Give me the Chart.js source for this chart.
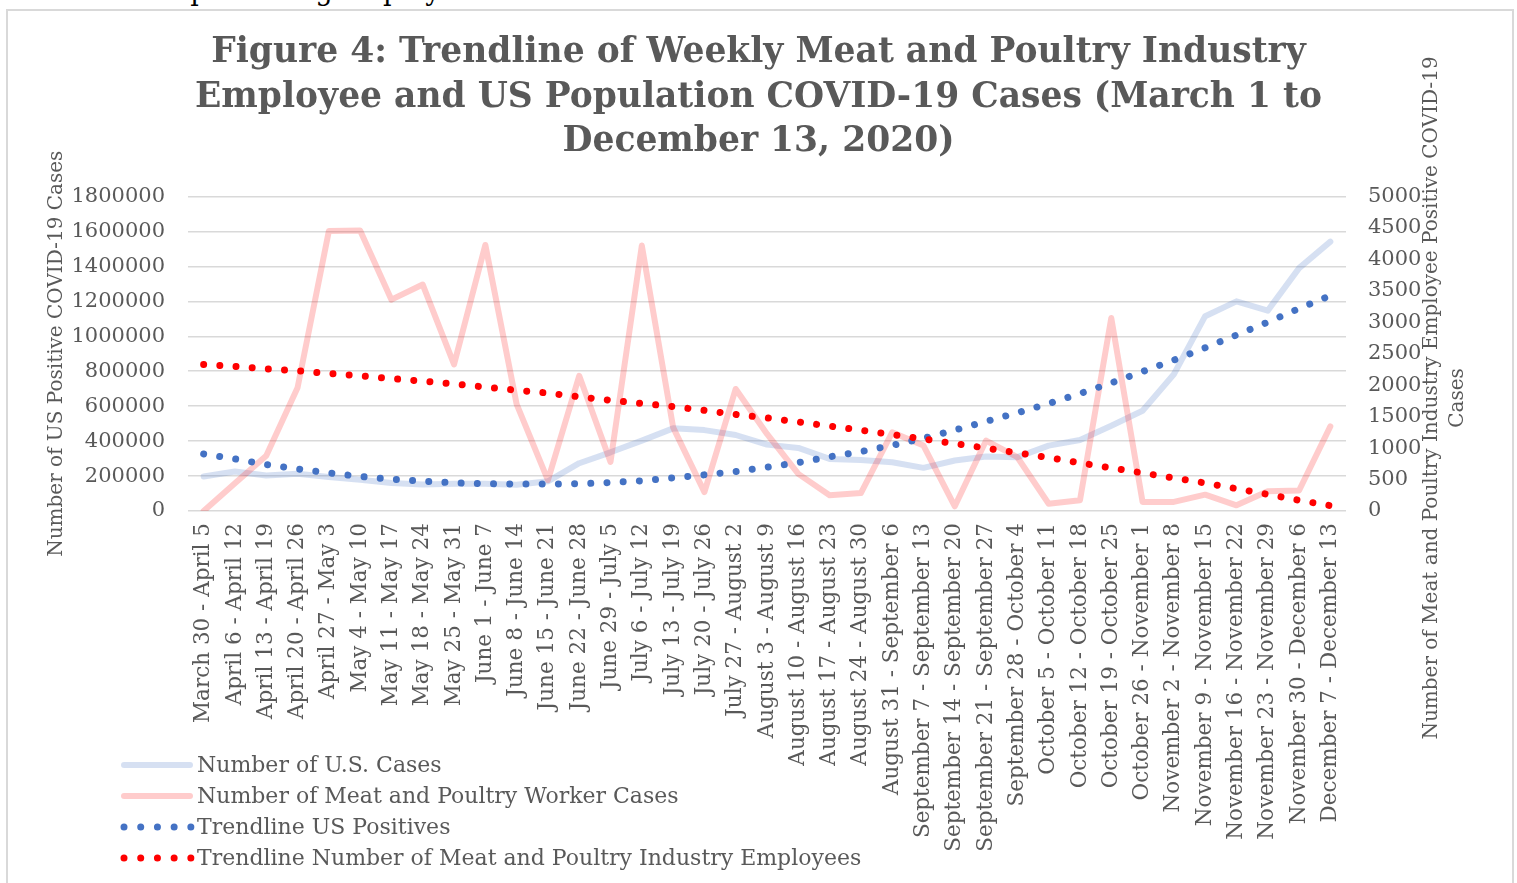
<!DOCTYPE html>
<html>
<head>
<meta charset="utf-8">
<script src="https://cdn.jsdelivr.net/npm/chart.js@4.4.1/dist/chart.umd.min.js"></script>
<style>
  body { margin: 0; background: #fff; overflow: hidden; font-family: 'DejaVu Serif', serif; }
  #above { position: absolute; left: 131px; top: -23px; font-size: 27px; line-height: 27px; color: #000; white-space: nowrap; }
  #frame { position: absolute; left: 6px; top: 9px; width: 1508px; height: 900px; border: 2px solid #d9d9d9; box-sizing: border-box; }
  #chart { position: absolute; left: 0; top: 0; }
  #legend { position: absolute; left: 120px; top: 749px; }
  .row { height: 31px; display: flex; align-items: center; color: #595959; font-size: 22px; white-space: nowrap; }
  .row svg { width: 77px; height: 12px; flex: none; }
</style>
</head>
<body>
<div id="above">and protecting employees.</div>
<div id="frame"></div>
<canvas id="chart" width="1517" height="883"></canvas>
<div id="legend"></div>
<script>
// weekly buckets, March 30 .. December 13, 2020
const weeks = [
  'March 30 - April 5', 'April 6 - April 12', 'April 13 - April 19', 'April 20 - April 26',
  'April 27 - May 3', 'May 4 - May 10', 'May 11 - May 17', 'May 18 - May 24', 'May 25 - May 31',
  'June 1 - June 7', 'June 8 - June 14', 'June 15 - June 21', 'June 22 - June 28',
  'June 29 - July 5', 'July 6 - July 12', 'July 13 - July 19', 'July 20 - July 26',
  'July 27 - August 2', 'August 3 - August 9', 'August 10 - August 16', 'August 17 - August 23',
  'August 24 - August 30', 'August 31 - September 6', 'September 7 - September 13',
  'September 14 - September 20', 'September 21 - September 27', 'September 28 - October 4',
  'October 5 - October 11', 'October 12 - October 18', 'October 19 - October 25',
  'October 26 - November 1', 'November 2 - November 8', 'November 9 - November 15',
  'November 16 - November 22', 'November 23 - November 29', 'November 30 - December 6',
  'December 7 - December 13'
];

// left axis
const usCases = [
  197500, 226000, 203000, 213000, 194000, 178500, 160000, 152000, 156000, 156000,
  150000, 170000, 273500, 336000, 403000, 473000, 463000, 435000, 380000, 361000,
  298000, 292500, 279000, 247000, 289000, 311500, 308000, 374000, 406000, 488000,
  573500, 782500, 1115000, 1200000, 1147000, 1390000, 1542000
];
const usTrend = [
  326700, 298000, 266000, 241000, 218000, 197500, 182000, 171000, 161000, 156000,
  154000, 154000, 156000, 163000, 173000, 190000, 207000, 226000, 251000, 277000,
  310000, 340000, 376000, 416000, 463000, 513000, 562000, 615000, 672000, 733000,
  798000, 864000, 934000, 1007000, 1081000, 1159000, 1233000
];

// right axis
const meatCases = [
  0, 440, 880, 1960, 4450, 4460, 3360, 3600, 2330, 4230,
  1700, 490, 2150, 780, 4220, 1330, 300, 1940, 1225, 590,
  250, 285, 1250, 1040, 75, 1120, 855, 115, 170, 3070,
  145, 145, 260, 90, 315, 325, 1345
];
const meatTrend = [
  2330, 2300, 2260, 2230, 2185, 2150, 2105, 2065, 2020, 1970,
  1920, 1875, 1815, 1760, 1710, 1660, 1600, 1535, 1480, 1415,
  1350, 1285, 1215, 1145, 1070, 1000, 925, 850, 765, 685,
  605, 525, 445, 355, 265, 170, 85
];

const titleLines = [
  'Figure 4: Trendline of Weekly Meat and Poultry Industry',
  'Employee and US Population COVID-19 Cases (March 1 to',
  'December 13, 2020)'
];
const leftTitle = 'Number of US Positive COVID-19 Cases';
const rightTitleLines = [
  'Number of Meat and Poultry Industry Employee Positive COVID-19',
  'Cases'
];

const GREY = '#595959';
const SERIF = "'DejaVu Serif', serif";
Chart.defaults.font.family = SERIF;
Chart.defaults.color = GREY;

const DOTS = [0.01, 16.2];

// right axis title reads bottom-to-top, which chart.js does not do on the right side
const rightTitle = {
  id: 'rightTitle',
  afterDraw(chart) {
    const ctx = chart.ctx;
    ctx.save();
    ctx.font = '20px ' + SERIF;
    ctx.fillStyle = GREY;
    ctx.textAlign = 'center';
    ctx.textBaseline = 'middle';
    ctx.translate(1432, 398);
    ctx.rotate(-Math.PI / 2);
    rightTitleLines.forEach((t, i) => ctx.fillText(t, 0, i * 26));
    ctx.restore();
  }
};

const chart = new Chart(document.getElementById('chart'), {
  type: 'line',
  data: {
    labels: weeks,
    datasets: [
      { label: 'Number of U.S. Cases', data: usCases, yAxisID: 'y',
        borderColor: 'rgba(68,114,196,0.22)', borderWidth: 6, borderJoinStyle: 'round',
        borderCapStyle: 'round', pointRadius: 0, order: 3 },
      { label: 'Number of Meat and Poultry Worker Cases', data: meatCases, yAxisID: 'y1',
        borderColor: 'rgba(255,0,0,0.2)', borderWidth: 6, borderJoinStyle: 'round',
        borderCapStyle: 'round', pointRadius: 0, order: 2 },
      { label: 'Trendline US Positives', data: usTrend, yAxisID: 'y',
        borderColor: '#4472C4', borderWidth: 7, borderDash: DOTS,
        borderCapStyle: 'round', pointRadius: 0, order: 1 },
      { label: 'Trendline Number of Meat and Poultry Industry Employees', data: meatTrend, yAxisID: 'y1',
        borderColor: '#FF0000', borderWidth: 7, borderDash: DOTS,
        borderCapStyle: 'round', pointRadius: 0, order: 0 }
    ]
  },
  options: {
    responsive: false, animation: false,
    layout: { padding: 0 },
    plugins: {
      legend: { display: false },
      tooltip: { enabled: false },
      title: {
        display: true, text: titleLines, color: GREY,
        font: { family: SERIF, size: 34.5, weight: 'bold', lineHeight: 1.29 },
        padding: { top: 31, bottom: 32 }
      }
    },
    scales: {
      x: {
        offset: true,
        grid: { display: false, drawTicks: false },
        border: { display: false },
        ticks: { autoSkip: false, minRotation: 90, maxRotation: 90, padding: 12, font: { size: 21.5 }, color: GREY },
        afterFit: s => { s.height = 372; }
      },
      y: {
        position: 'left', min: 0, max: 1800000,
        grid: { color: '#d9d9d9', lineWidth: 1.5, drawTicks: false },
        border: { display: false },
        ticks: { stepSize: 200000, padding: 23, font: { size: 21 }, color: GREY, callback: v => String(v) },
        title: { display: true, text: leftTitle, color: GREY, font: { size: 20 }, padding: { top: 45, bottom: 0 } },
        afterFit: s => { s.width = 188; }
      },
      y1: {
        position: 'right', min: 0, max: 5000,
        grid: { display: false, drawTicks: false },
        border: { display: false },
        ticks: { stepSize: 500, padding: 22, font: { size: 21 }, color: GREY, callback: v => String(v) },
        afterFit: s => { s.width = 171; }
      }
    }
  },
  plugins: [rightTitle]
});

// legend drawn as html rows under the left part of the plot
const legend = document.getElementById('legend');
chart.data.datasets.forEach(ds => {
  const row = document.createElement('div');
  row.className = 'row';
  const dotted = !!ds.borderDash;
  const dash = dotted ? ' stroke-dasharray="0.01 16.7"' : '';
  row.innerHTML =
    '<svg viewBox="0 0 77 12"><line x1="4" y1="6" x2="' + (dotted ? 71 : 70) + '" y2="6" stroke="' + ds.borderColor +
    '" stroke-width="' + (dotted ? 7 : 6) + '" stroke-linecap="round"' + dash + '/></svg>';
  const span = document.createElement('span');
  span.textContent = ds.label;
  row.appendChild(span);
  legend.appendChild(row);
});
</script>
</body>
</html>
